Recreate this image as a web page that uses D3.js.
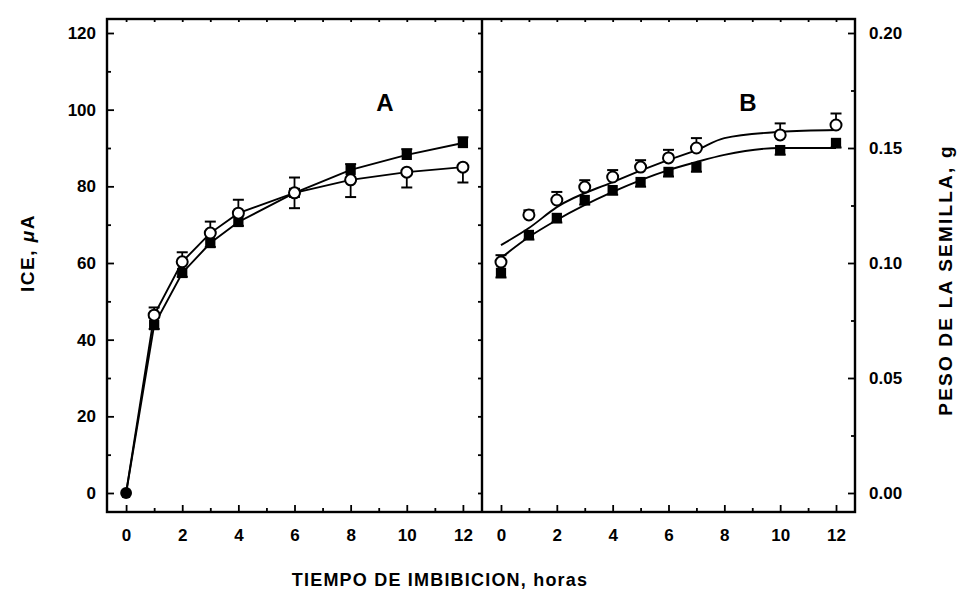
<!DOCTYPE html>
<html><head><meta charset="utf-8">
<script src="https://cdn.jsdelivr.net/npm/d3@7"></script>
<style>
body{margin:0;background:#fff;}
svg text{font-family:"Liberation Sans",Arial,sans-serif;fill:#000;}
</style></head>
<body><svg id="c" width="965" height="600"></svg>
<script>
// ---- data ----
const hoursA = [0, 1, 2, 3, 4, 6, 8, 10, 12];
const iceOpen = [0, 46.4, 60.3, 67.8, 73.0, 78.3, 81.7, 83.7, 85.0];
const iceFilled = [0, 43.8, 57.4, 65.2, 70.7, 78.3, 84.3, 88.2, 91.3];
const iceOpenErr = [0, 2, 2.5, 3, 3.5, 4, 4.5, 4, 4];
const iceFilledErr = [0, 1, 1, 1, 1, 1, 1.5, 1.5, 1.5];

const hoursB = [0, 1, 2, 3, 4, 5, 6, 7, 10, 12];
const weightOpen = [0.1004, 0.1209, 0.1274, 0.1330, 0.1374, 0.1417, 0.1457, 0.1500, 0.1557, 0.1600];
const weightFilled = [0.0957, 0.1122, 0.1196, 0.1274, 0.1317, 0.1352, 0.1396, 0.1417, 0.1491, 0.1522];
const weightOpenErr = [0.003, 0.002, 0.0035, 0.003, 0.003, 0.003, 0.0035, 0.0043, 0.005, 0.005];
const weightFilledErr = [0.002, 0.002, 0.002, 0.002, 0.002, 0.002, 0.002, 0.002, 0.002, 0.002];

const fitHours = [0, 1, 2, 4, 6, 7, 8, 10, 12];
const fitOpen = [0.1078, 0.1152, 0.1243, 0.1352, 0.1448, 0.1491, 0.1543, 0.1570, 0.1578];
const fitFilled = [0.1022, 0.1113, 0.1187, 0.1309, 0.1404, 0.1439, 0.1470, 0.1500, 0.1500];

const xTicks = [0, 2, 4, 6, 8, 10, 12];
const xMinor = [1, 3, 5, 7, 9, 11];
const iceTicks = [0, 20, 40, 60, 80, 100, 120];
const iceMinor = [10, 30, 50, 70, 90, 110];
const wTicks = [0, 0.05, 0.10, 0.15, 0.20];
const wMinor = [0.025, 0.075, 0.125, 0.175];

// ---- layout ----
const L = 107, M = 482, R = 855, T = 19, B = 512;
const svg = d3.select("#c");
const xA = d3.scaleLinear().domain([-0.68, 12.68]).range([L, M]);
const xB = d3.scaleLinear().domain([-0.68, 12.68]).range([M, R]);
const yL = d3.scaleLinear().domain([0, 120]).range([493, 33]);
const yR = d3.scaleLinear().domain([0, 0.20]).range([493, 33]);

function styleAxis(g){
  g.select(".domain").remove();
  g.selectAll("line").attr("stroke","#000").attr("stroke-width",1.8);
  g.selectAll("text").attr("font-size",17).attr("font-weight","bold").attr("font-family","Liberation Sans, Arial, sans-serif");
}

// left axis
svg.append("g").attr("transform",`translate(${L},0)`)
  .call(d3.axisLeft(yL).tickValues(iceTicks).tickSize(-7).tickSizeOuter(0).tickPadding(11).tickFormat(d3.format("d")))
  .call(styleAxis);
svg.append("g").attr("transform",`translate(${L},0)`)
  .call(d3.axisLeft(yL).tickValues(iceMinor).tickSize(-4).tickSizeOuter(0).tickFormat(""))
  .call(styleAxis);
// divider mirror ticks
svg.append("g").attr("transform",`translate(${M},0)`)
  .call(d3.axisRight(yL).tickValues(iceTicks.concat(iceMinor)).tickSize(-4).tickSizeOuter(0).tickFormat(""))
  .call(styleAxis);
// right axis
svg.append("g").attr("transform",`translate(${R},0)`)
  .call(d3.axisRight(yR).tickValues(wTicks).tickSize(-7).tickSizeOuter(0).tickPadding(14).tickFormat(d3.format(".2f")))
  .call(styleAxis);
svg.append("g").attr("transform",`translate(${R},0)`)
  .call(d3.axisRight(yR).tickValues(wMinor).tickSize(-4).tickSizeOuter(0).tickFormat(""))
  .call(styleAxis);
// bottom axes
[xA, xB].forEach(x => {
  svg.append("g").attr("transform",`translate(0,${B})`)
    .call(d3.axisBottom(x).tickValues(xTicks).tickSize(-7).tickSizeOuter(0).tickPadding(17).tickFormat(d3.format("d")))
    .call(styleAxis);
  svg.append("g").attr("transform",`translate(0,${B})`)
    .call(d3.axisBottom(x).tickValues(xMinor).tickSize(-4).tickSizeOuter(0).tickFormat(""))
    .call(styleAxis);
  svg.append("g").attr("transform",`translate(0,${T})`)
    .call(d3.axisTop(x).tickValues(xTicks.concat(xMinor)).tickSize(-3).tickSizeOuter(0).tickFormat(""))
    .call(styleAxis);
});

// frame
svg.append("rect").attr("x",L).attr("y",T).attr("width",R-L).attr("height",B-T)
  .attr("fill","none").attr("stroke","#000").attr("stroke-width",2.4);
svg.append("line").attr("x1",M).attr("x2",M).attr("y1",T).attr("y2",B)
  .attr("stroke","#000").attr("stroke-width",2.4);

// ---- panel A ----
const gA = svg.append("g");
const lineA = d3.line().x(d=>xA(d[0])).y(d=>yL(d[1]));
[iceOpen, iceFilled].forEach(s => {
  gA.append("path").datum(hoursA.map((h,i)=>[h,s[i]]))
    .attr("d",lineA).attr("fill","none").attr("stroke","#000").attr("stroke-width",1.9);
});
function errBars(g, hours, vals, errs, other, x, y){
  hours.forEach((h,i)=>{
    if(!errs[i]) return;
    const dirs = vals[i] > other[i] ? [1] : vals[i] < other[i] ? [-1] : [1,-1];
    dirs.forEach(s=>{
      const v2 = vals[i] + s*errs[i];
      g.append("line").attr("x1",x(h)).attr("x2",x(h)).attr("y1",y(vals[i])).attr("y2",y(v2))
        .attr("stroke","#000").attr("stroke-width",1.8);
      g.append("line").attr("x1",x(h)-5.5).attr("x2",x(h)+5.5).attr("y1",y(v2)).attr("y2",y(v2))
        .attr("stroke","#000").attr("stroke-width",2);
    });
  });
}
errBars(gA, hoursA, iceFilled, iceFilledErr, iceOpen, xA, yL);
errBars(gA, hoursA, iceOpen, iceOpenErr, iceFilled, xA, yL);
const sq = d3.symbol().type(d3.symbolSquare).size(105);
gA.selectAll(".fa").data(hoursA).enter().append("path")
  .attr("transform",(h,i)=>`translate(${xA(h)},${yL(iceFilled[i])})`)
  .attr("d",(h,i)=> i===0 ? d3.symbol().type(d3.symbolCircle).size(110)() : sq()).attr("fill","#000");
gA.selectAll(".oa").data(hoursA).enter().filter((h,i)=>i>0).append("circle")
  .attr("cx",h=>xA(h)).attr("cy",(h)=>yL(iceOpen[hoursA.indexOf(h)])).attr("r",5.5)
  .attr("fill","#fff").attr("stroke","#000").attr("stroke-width",2);

// ---- panel B ----
const gB = svg.append("g");
const fitLine = d3.line().x(d=>xB(d[0])).y(d=>yR(d[1])).curve(d3.curveMonotoneX);
[fitOpen, fitFilled].forEach(s=>{
  gB.append("path").datum(fitHours.map((h,i)=>[h,s[i]]))
    .attr("d",fitLine).attr("fill","none").attr("stroke","#000").attr("stroke-width",1.9);
});
errBars(gB, hoursB, weightFilled, weightFilledErr, weightOpen, xB, yR);
errBars(gB, hoursB, weightOpen, weightOpenErr, weightFilled, xB, yR);
gB.selectAll(".fb").data(hoursB).enter().append("path")
  .attr("transform",(h,i)=>`translate(${xB(h)},${yR(weightFilled[i])})`)
  .attr("d",sq()).attr("fill","#000");
gB.selectAll(".ob").data(hoursB).enter().append("circle")
  .attr("cx",h=>xB(h)).attr("cy",(h,i)=>yR(weightOpen[i])).attr("r",5.5)
  .attr("fill","#fff").attr("stroke","#000").attr("stroke-width",2);

// ---- labels ----
svg.append("text").attr("x",385).attr("y",111).attr("text-anchor","middle")
  .attr("font-size",24).attr("font-weight","bold").text("A");
svg.append("text").attr("x",748).attr("y",111).attr("text-anchor","middle")
  .attr("font-size",24).attr("font-weight","bold").text("B");
svg.append("text").attr("x",440).attr("y",586).attr("text-anchor","middle")
  .attr("font-size",18).attr("font-weight","bold").attr("letter-spacing",1.2)
  .text("TIEMPO DE IMBIBICION, horas");
const yt = svg.append("text").attr("transform","translate(34,253) rotate(-90)")
  .attr("text-anchor","middle").attr("font-size",19).attr("font-weight","bold").attr("letter-spacing",1.5);
yt.append("tspan").text("ICE, ");
yt.append("tspan").attr("font-style","italic").text("μ");
yt.append("tspan").text("A");
svg.append("text").attr("transform","translate(952,280) rotate(-90)")
  .attr("text-anchor","middle").attr("font-size",19).attr("font-weight","bold").attr("letter-spacing",2.2)
  .text("PESO DE LA SEMILLA, g");
</script></body></html>
